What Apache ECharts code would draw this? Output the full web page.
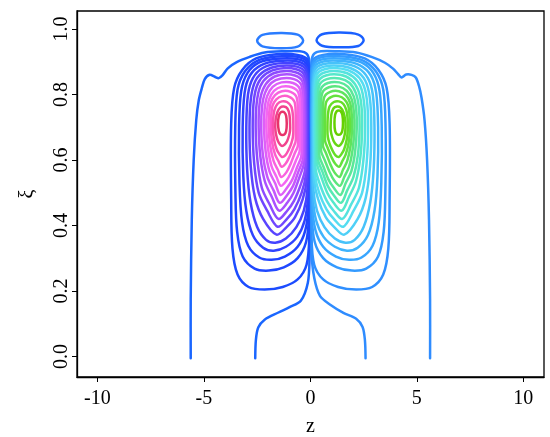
<!DOCTYPE html>
<html>
<head>
<meta charset="utf-8">
<script src="https://cdn.jsdelivr.net/npm/echarts@6/dist/echarts.min.js"></script>
<style>
  html, body { margin: 0; padding: 0; background: #fff; }
  #chart { width: 550px; height: 437px; }
</style>
</head>
<body>
<div id="chart"></div>
<script>
// Streamfunction contours of the two counter-rotating cells, in (z, xi) units.
const zTicks = [-10, -5, 0, 5, 10];
const xiTicks = [0, 0.2, 0.4, 0.6, 0.8, 1.0];

// Left cell (negative levels), listed from the weakest (outer) to the strongest (inner) contour.
const leftCell = [
  [[-0.03,0.62],[-0.03,0.82],[-0.12,0.905],[-0.6,0.921],[-1.6,0.923],[-2.55,0.91],[-3.2,0.875],[-3.58,0.82],[-3.72,0.71],[-3.72,0.48],[-3.66,0.33],[-3.42,0.25],[-2.9,0.212],[-2.15,0.204],[-1.3,0.212],[-0.6,0.235],[-0.18,0.28],[-0.05,0.37]],
  [[-0.05,0.62],[-0.05,0.81],[-0.13,0.897],[-0.6,0.915],[-1.6,0.916],[-2.5,0.903],[-3.08,0.87],[-3.42,0.815],[-3.53,0.70],[-3.52,0.50],[-3.44,0.38],[-3.18,0.305],[-2.62,0.268],[-1.95,0.262],[-1.25,0.272],[-0.6,0.30],[-0.2,0.35],[-0.07,0.43]],
  [[-0.07,0.62],[-0.07,0.80],[-0.15,0.89],[-0.6,0.908],[-1.6,0.909],[-2.42,0.897],[-2.96,0.865],[-3.25,0.81],[-3.35,0.70],[-3.33,0.53],[-3.21,0.41],[-2.92,0.338],[-2.4,0.302],[-1.82,0.295],[-1.2,0.305],[-0.6,0.335],[-0.24,0.385],[-0.09,0.46]],
  [[-0.09,0.62],[-0.09,0.79],[-0.17,0.882],[-0.6,0.901],[-1.55,0.902],[-2.33,0.889],[-2.84,0.858],[-3.09,0.805],[-3.18,0.70],[-3.15,0.55],[-3.01,0.445],[-2.70,0.37],[-2.22,0.332],[-1.72,0.323],[-1.15,0.335],[-0.62,0.365],[-0.27,0.415],[-0.11,0.49]],
  [[-0.12,0.62],[-0.12,0.785],[-0.20,0.874],[-0.62,0.893],[-1.5,0.895],[-2.24,0.881],[-2.70,0.85],[-2.93,0.80],[-3.01,0.70],[-2.97,0.57],[-2.81,0.47],[-2.50,0.395],[-2.08,0.356],[-1.65,0.347],[-1.15,0.36],[-0.66,0.395],[-0.31,0.445],[-0.14,0.51]],
  [[-0.15,0.62],[-0.15,0.78],[-0.23,0.865],[-0.64,0.885],[-1.48,0.887],[-2.15,0.872],[-2.58,0.842],[-2.79,0.79],[-2.86,0.70],[-2.80,0.58],[-2.60,0.485],[-2.22,0.42],[-1.59,0.372],[-1.12,0.395],[-0.72,0.425],[-0.36,0.48],[-0.17,0.54]],
  [[-0.19,0.62],[-0.19,0.775],[-0.27,0.857],[-0.67,0.877],[-1.45,0.879],[-2.07,0.864],[-2.46,0.834],[-2.65,0.785],[-2.71,0.70],[-2.64,0.59],[-2.43,0.50],[-2.03,0.445],[-1.54,0.396],[-1.10,0.42],[-0.75,0.45],[-0.41,0.50],[-0.21,0.555]],
  [[-0.23,0.625],[-0.23,0.77],[-0.31,0.848],[-0.70,0.868],[-1.42,0.870],[-1.99,0.855],[-2.35,0.825],[-2.52,0.775],[-2.57,0.70],[-2.49,0.60],[-2.28,0.515],[-1.92,0.465],[-1.50,0.420],[-1.09,0.445],[-0.77,0.475],[-0.45,0.525],[-0.25,0.57]],
  [[-0.28,0.63],[-0.28,0.765],[-0.36,0.838],[-0.73,0.858],[-1.40,0.860],[-1.91,0.845],[-2.23,0.815],[-2.39,0.77],[-2.43,0.70],[-2.35,0.61],[-2.14,0.535],[-1.81,0.487],[-1.47,0.445],[-1.08,0.47],[-0.79,0.50],[-0.50,0.55],[-0.30,0.59]],
  [[-0.34,0.635],[-0.34,0.76],[-0.42,0.828],[-0.77,0.847],[-1.38,0.849],[-1.84,0.835],[-2.13,0.805],[-2.27,0.763],[-2.31,0.70],[-2.23,0.615],[-2.03,0.55],[-1.73,0.507],[-1.44,0.469],[-1.08,0.494],[-0.82,0.52],[-0.56,0.565],[-0.36,0.60]],
  [[-0.41,0.64],[-0.41,0.755],[-0.49,0.816],[-0.82,0.835],[-1.36,0.837],[-1.77,0.823],[-2.03,0.795],[-2.15,0.755],[-2.18,0.70],[-2.10,0.625],[-1.92,0.565],[-1.65,0.528],[-1.41,0.493],[-1.09,0.516],[-0.85,0.54],[-0.61,0.58],[-0.43,0.61]],
  [[-0.49,0.65],[-0.49,0.75],[-0.56,0.805],[-0.87,0.822],[-1.35,0.824],[-1.71,0.811],[-1.94,0.785],[-2.04,0.748],[-2.07,0.70],[-1.99,0.635],[-1.82,0.58],[-1.59,0.548],[-1.39,0.521],[-1.12,0.537],[-0.89,0.565],[-0.67,0.60],[-0.51,0.625]],
  [[-0.58,0.66],[-0.59,0.745],[-0.65,0.792],[-0.93,0.808],[-1.34,0.810],[-1.66,0.798],[-1.86,0.775],[-1.94,0.74],[-1.96,0.70],[-1.89,0.645],[-1.73,0.597],[-1.53,0.57],[-1.37,0.548],[-1.13,0.562],[-0.93,0.588],[-0.74,0.62],[-0.60,0.64]],
  [[-0.68,0.67],[-0.69,0.74],[-0.75,0.778],[-0.99,0.793],[-1.33,0.795],[-1.60,0.785],[-1.78,0.765],[-1.84,0.735],[-1.86,0.70],[-1.80,0.655],[-1.66,0.617],[-1.49,0.595],[-1.35,0.579],[-1.15,0.59],[-0.98,0.61],[-0.82,0.635],[-0.70,0.655]],
  [[-0.80,0.69],[-0.82,0.735],[-0.90,0.763],[-1.10,0.777],[-1.34,0.779],[-1.55,0.771],[-1.69,0.752],[-1.75,0.725],[-1.76,0.695],[-1.70,0.66],[-1.58,0.632],[-1.45,0.617],[-1.34,0.609],[-1.18,0.614],[-1.03,0.63],[-0.90,0.65],[-0.82,0.67]],
  [[-0.95,0.70],[-0.98,0.737],[-1.08,0.757],[-1.25,0.763],[-1.42,0.760],[-1.55,0.746],[-1.63,0.724],[-1.65,0.70],[-1.61,0.677],[-1.52,0.657],[-1.42,0.647],[-1.33,0.643],[-1.21,0.647],[-1.09,0.658],[-1.00,0.675],[-0.96,0.688]],
  [[-1.11,0.711],[-1.14,0.735],[-1.22,0.745],[-1.31,0.747],[-1.40,0.745],[-1.48,0.735],[-1.52,0.711],[-1.48,0.688],[-1.40,0.678],[-1.31,0.676],[-1.22,0.678],[-1.14,0.688]]
];

// Right cell (positive levels), weakest to strongest.
const rightCell = [
  [[0.03,0.62],[0.03,0.82],[0.12,0.905],[0.6,0.921],[1.6,0.923],[2.55,0.91],[3.2,0.875],[3.58,0.82],[3.72,0.71],[3.72,0.48],[3.66,0.33],[3.42,0.25],[2.9,0.212],[2.15,0.204],[1.3,0.212],[0.6,0.235],[0.18,0.28],[0.05,0.37]],
  [[0.05,0.62],[0.05,0.81],[0.13,0.897],[0.6,0.915],[1.6,0.916],[2.5,0.903],[3.08,0.87],[3.42,0.815],[3.53,0.70],[3.52,0.50],[3.44,0.38],[3.18,0.305],[2.62,0.268],[1.95,0.262],[1.25,0.272],[0.6,0.30],[0.2,0.35],[0.07,0.43]],
  [[0.07,0.62],[0.07,0.80],[0.15,0.89],[0.6,0.908],[1.6,0.909],[2.42,0.897],[2.96,0.865],[3.25,0.81],[3.35,0.70],[3.33,0.53],[3.21,0.41],[2.92,0.338],[2.4,0.302],[1.82,0.295],[1.2,0.305],[0.6,0.335],[0.24,0.385],[0.09,0.46]],
  [[0.09,0.62],[0.09,0.79],[0.17,0.882],[0.6,0.901],[1.55,0.902],[2.33,0.889],[2.84,0.858],[3.09,0.805],[3.18,0.70],[3.15,0.55],[3.01,0.445],[2.70,0.37],[2.22,0.332],[1.72,0.323],[1.15,0.335],[0.62,0.365],[0.27,0.415],[0.11,0.49]],
  [[0.12,0.62],[0.12,0.785],[0.20,0.874],[0.62,0.893],[1.5,0.895],[2.24,0.881],[2.70,0.85],[2.93,0.80],[3.01,0.70],[2.97,0.57],[2.81,0.47],[2.50,0.395],[2.08,0.356],[1.65,0.347],[1.15,0.36],[0.66,0.395],[0.31,0.445],[0.14,0.51]],
  [[0.15,0.62],[0.15,0.78],[0.23,0.865],[0.64,0.885],[1.48,0.887],[2.15,0.872],[2.58,0.842],[2.79,0.79],[2.86,0.70],[2.80,0.58],[2.60,0.485],[2.22,0.42],[1.59,0.372],[1.12,0.395],[0.72,0.425],[0.36,0.48],[0.17,0.54]],
  [[0.19,0.62],[0.19,0.775],[0.27,0.857],[0.67,0.877],[1.45,0.879],[2.07,0.864],[2.46,0.834],[2.65,0.785],[2.71,0.70],[2.64,0.59],[2.43,0.50],[2.03,0.445],[1.54,0.396],[1.10,0.42],[0.75,0.45],[0.41,0.50],[0.21,0.555]],
  [[0.23,0.625],[0.23,0.77],[0.31,0.848],[0.70,0.868],[1.42,0.870],[1.99,0.855],[2.35,0.825],[2.52,0.775],[2.57,0.70],[2.49,0.60],[2.28,0.515],[1.92,0.465],[1.50,0.420],[1.09,0.445],[0.77,0.475],[0.45,0.525],[0.25,0.57]],
  [[0.28,0.63],[0.28,0.765],[0.36,0.838],[0.73,0.858],[1.40,0.860],[1.91,0.845],[2.23,0.815],[2.39,0.77],[2.43,0.70],[2.35,0.61],[2.14,0.535],[1.81,0.487],[1.47,0.445],[1.08,0.47],[0.79,0.50],[0.50,0.55],[0.30,0.59]],
  [[0.34,0.635],[0.34,0.76],[0.42,0.828],[0.77,0.847],[1.38,0.849],[1.84,0.835],[2.13,0.805],[2.27,0.763],[2.31,0.70],[2.23,0.615],[2.03,0.55],[1.73,0.507],[1.44,0.469],[1.08,0.494],[0.82,0.52],[0.56,0.565],[0.36,0.60]],
  [[0.41,0.64],[0.41,0.755],[0.49,0.816],[0.82,0.835],[1.36,0.837],[1.77,0.823],[2.03,0.795],[2.15,0.755],[2.18,0.70],[2.10,0.625],[1.92,0.565],[1.65,0.528],[1.41,0.493],[1.09,0.516],[0.85,0.54],[0.61,0.58],[0.43,0.61]],
  [[0.49,0.65],[0.49,0.75],[0.56,0.805],[0.87,0.822],[1.35,0.824],[1.71,0.811],[1.94,0.785],[2.04,0.748],[2.07,0.70],[1.99,0.635],[1.82,0.58],[1.59,0.548],[1.39,0.521],[1.12,0.537],[0.89,0.565],[0.67,0.60],[0.51,0.625]],
  [[0.58,0.66],[0.59,0.745],[0.65,0.792],[0.93,0.808],[1.34,0.810],[1.66,0.798],[1.86,0.775],[1.94,0.74],[1.96,0.70],[1.89,0.645],[1.73,0.597],[1.53,0.57],[1.37,0.548],[1.13,0.562],[0.93,0.588],[0.74,0.62],[0.60,0.64]],
  [[0.68,0.67],[0.69,0.74],[0.75,0.778],[0.99,0.793],[1.33,0.795],[1.60,0.785],[1.78,0.765],[1.84,0.735],[1.86,0.70],[1.80,0.655],[1.66,0.617],[1.49,0.595],[1.35,0.579],[1.15,0.59],[0.98,0.61],[0.82,0.635],[0.70,0.655]],
  [[0.80,0.69],[0.82,0.735],[0.90,0.763],[1.10,0.777],[1.34,0.779],[1.55,0.771],[1.69,0.752],[1.75,0.725],[1.76,0.695],[1.70,0.66],[1.58,0.632],[1.45,0.617],[1.34,0.609],[1.18,0.614],[1.03,0.63],[0.90,0.65],[0.82,0.67]],
  [[0.95,0.70],[0.98,0.737],[1.08,0.757],[1.25,0.763],[1.42,0.760],[1.55,0.746],[1.63,0.724],[1.65,0.70],[1.61,0.677],[1.52,0.657],[1.42,0.647],[1.33,0.643],[1.21,0.647],[1.09,0.658],[1.00,0.675],[0.96,0.688]],
  [[1.13,0.713],[1.16,0.738],[1.24,0.749],[1.33,0.751],[1.42,0.749],[1.50,0.738],[1.53,0.713],[1.50,0.689],[1.42,0.679],[1.33,0.677],[1.24,0.679],[1.16,0.689]]
];

// Weak open contours wrapping each cell, from the lower boundary back to the lower boundary.
const leftOuter = [
  [-5.62,-0.006],[-5.62,0.174],[-5.57,0.417],[-5.48,0.600],[-5.36,0.722],[-5.24,0.783],[-5.10,0.819],[-4.96,0.847],
  [-4.73,0.860],[-4.49,0.854],[-4.30,0.850],[-4.12,0.859],[-3.88,0.880],[-3.46,0.899],[-2.85,0.915],[-2.15,0.928],
  [-1.21,0.932],[-0.50,0.932],[-0.17,0.924],[-0.05,0.899],[-0.02,0.783],[-0.02,0.478],[-0.04,0.30],[-0.12,0.225],
  [-0.45,0.170],[-1.0,0.150],[-1.5,0.134],[-2.15,0.112],[-2.45,0.088],[-2.56,0.05],[-2.59,-0.006]
];
const rightOuter = [
  [5.62,-0.006],[5.62,0.174],[5.57,0.417],[5.48,0.600],[5.36,0.722],[5.22,0.790],[5.10,0.826],[4.95,0.852],
  [4.75,0.860],[4.50,0.861],[4.28,0.852],[4.12,0.862],[3.88,0.879],[3.50,0.897],[2.90,0.914],[2.15,0.928],
  [1.21,0.932],[0.50,0.932],[0.17,0.924],[0.05,0.899],[0.02,0.783],[0.02,0.478],[0.05,0.32],[0.18,0.24],
  [0.45,0.185],[0.95,0.157],[1.55,0.133],[2.15,0.115],[2.45,0.090],[2.56,0.05],[2.59,-0.006]
];

// Small secondary eddies below the upper boundary.
const leftEddy = [[-2.50,0.964],[-2.25,0.982],[-1.40,0.988],[-0.60,0.983],[-0.34,0.965],[-0.60,0.946],[-1.40,0.941],[-2.25,0.947]];
const rightEddy = [[0.29,0.966],[0.55,0.984],[1.40,0.989],[2.25,0.983],[2.50,0.966],[2.25,0.948],[1.40,0.944],[0.55,0.949]];

// ---- styling ----
const FONT = 'Liberation Serif';

function hex2rgb(h) { return [1, 3, 5].map(i => parseInt(h.substr(i, 2), 16)); }
function ramp(stops, f) {
  for (let i = 1; i < stops.length; i++) {
    if (f <= stops[i][0]) {
      const a = stops[i - 1], b = stops[i];
      const t = (f - a[0]) / (b[0] - a[0]);
      const ca = hex2rgb(a[1]), cb = hex2rgb(b[1]);
      const c = ca.map((v, j) => Math.round(v + (cb[j] - v) * t));
      return 'rgb(' + c.join(',') + ')';
    }
  }
  return stops[stops.length - 1][1];
}
const negStops = [[0, '#1a50ff'], [0.2, '#2242ff'], [0.4, '#6a45ff'], [0.55, '#b552ff'], [0.7, '#f466f4'], [0.85, '#ff5cc4'], [1, '#e8336a']];
const posStops = [[0, '#2a84ff'], [0.2, '#3aaaff'], [0.4, '#55dcf5'], [0.55, '#55eac4'], [0.7, '#5ce680'], [0.85, '#66e030'], [1, '#66d000']];

const contours = [];
contours.push({ pts: leftOuter, closed: false, color: '#1a66ff' });
contours.push({ pts: rightOuter, closed: false, color: '#2f8cff' });
contours.push({ pts: leftEddy, closed: true, color: '#2a7cff' });
contours.push({ pts: rightEddy, closed: true, color: '#1a60ff' });
leftCell.forEach((pts, k) => contours.push({ pts, closed: true, color: ramp(negStops, (k + 1) / leftCell.length) }));
rightCell.forEach((pts, k) => contours.push({ pts, closed: true, color: ramp(posStops, (k + 1) / rightCell.length) }));

const chart = echarts.init(document.getElementById('chart'), null, { renderer: 'canvas' });

const axisText = { color: '#000', fontFamily: FONT, fontSize: 20 };

chart.setOption({
  animation: false,
  backgroundColor: '#fff',
  grid: {
    left: 77, right: 6, top: 11, bottom: 60,
    containLabel: false, outerBoundsMode: 'none',
    show: true, borderColor: '#000', borderWidth: 1.3, backgroundColor: 'transparent'
  },
  xAxis: {
    type: 'value', min: -10.96, max: 10.97,
    name: 'z', nameLocation: 'middle', nameGap: 40,
    nameTextStyle: { color: '#000', fontFamily: FONT, fontSize: 20 },
    splitLine: { show: false },
    axisLine: { show: true, onZero: false, lineStyle: { color: '#000', width: 1.3 } },
    axisTick: { show: true, inside: false, length: 5, customValues: zTicks, lineStyle: { color: '#000', width: 1 } },
    axisLabel: Object.assign({ customValues: zTicks, margin: 12, formatter: v => String(v) }, axisText)
  },
  yAxis: {
    type: 'value', min: -0.063, max: 1.055,
    name: 'ξ', nameLocation: 'middle', nameGap: 39, nameRotate: 90,
    nameTextStyle: { color: '#000', fontFamily: FONT, fontSize: 20 },
    splitLine: { show: false },
    axisLine: { show: true, onZero: false, lineStyle: { color: '#000', width: 1.3 } },
    axisTick: { show: true, inside: false, length: 5, customValues: xiTicks, lineStyle: { color: '#000', width: 1 } },
    axisLabel: Object.assign({ customValues: xiTicks, rotate: 90, margin: 5, formatter: v => v.toFixed(1) }, axisText)
  },
  series: [{
    type: 'custom',
    coordinateSystem: 'cartesian2d',
    silent: true,
    data: contours.map(() => [0, 0]),
    renderItem: function (params, api) {
      const c = contours[params.dataIndex];
      const points = c.pts.map(p => api.coord(p));
      return {
        type: c.closed ? 'polygon' : 'polyline',
        shape: { points: points, smooth: c.closed ? 0.33 : 0.3 },
        style: { fill: 'none', stroke: c.color, lineWidth: 2.5, lineJoin: 'round', lineCap: 'round' }
      };
    }
  }]
});
</script>
</body>
</html>
